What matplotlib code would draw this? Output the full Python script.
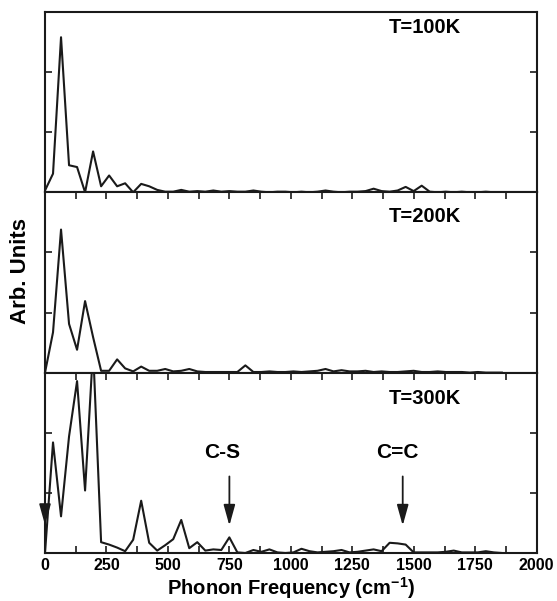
import numpy as np
import matplotlib
matplotlib.use("Agg")
import matplotlib.pyplot as plt
from matplotlib.ticker import MultipleLocator

plt.rcParams["font.family"] = ["Liberation Sans", "DejaVu Sans"]
plt.rcParams["font.weight"] = "bold"
plt.rcParams["mathtext.fontset"] = "custom"
plt.rcParams["mathtext.rm"] = "Liberation Sans:bold"
plt.rcParams["mathtext.bf"] = "Liberation Sans:bold"

# frequency grid, ~32.6 cm^-1 step
step = 32.6
t100 = [0.03, 0.31, 2.58, 0.45, 0.42, 0.0, 0.68, 0.10, 0.28, 0.10,
        0.15, 0.0, 0.14, 0.10, 0.04, 0.01, 0.01, 0.04, 0.01, 0.02,
        0.01, 0.03, 0.01, 0.02, 0.01, 0.01, 0.03, 0.01, 0.0, 0.01,
        0.01, 0.0, 0.01, 0.0, 0.01, 0.03, 0.01, 0.0, 0.01, 0.01,
        0.02, 0.06, 0.02, 0.01, 0.03, 0.09, 0.02, 0.11, 0.01, 0.0,
        0.01, 0.0, 0.01, 0.0, 0.0, 0.01, 0.0, 0.0]
t200 = [0.0, 0.67, 2.38, 0.81, 0.38, 1.19, 0.59, 0.03, 0.03, 0.22,
        0.07, 0.02, 0.10, 0.03, 0.03, 0.06, 0.02, 0.03, 0.06, 0.02,
        0.01, 0.01, 0.01, 0.01, 0.01, 0.12, 0.01, 0.01, 0.02, 0.01,
        0.01, 0.02, 0.01, 0.02, 0.03, 0.06, 0.02, 0.04, 0.02, 0.02,
        0.03, 0.01, 0.02, 0.01, 0.01, 0.02, 0.03, 0.01, 0.01, 0.02,
        0.01, 0.01, 0.01, 0.0, 0.01, 0.0, 0.0, 0.0]
t300 = [0.0, 1.84, 0.61, 1.94, 2.86, 1.04, 3.4, 0.18, 0.14, 0.09,
        0.03, 0.22, 0.87, 0.17, 0.04, 0.13, 0.23, 0.55, 0.08, 0.18,
        0.04, 0.06, 0.05, 0.26, 0.01, 0.0, 0.05, 0.02, 0.06, 0.01,
        0.0, 0.01, 0.07, 0.03, 0.01, 0.02, 0.03, 0.05, 0.01, 0.02,
        0.04, 0.06, 0.03, 0.17, 0.16, 0.14, 0.01, 0.01, 0.01, 0.01,
        0.02, 0.04, 0.01, 0.01, 0.01, 0.03, 0.01, 0.0]
labels = ["T=100K", "T=200K", "T=300K"]
peaks = [("C-S", 750, 721), ("C=C", 1455, 1435)]

freq = np.arange(len(t100)) * step

fig = plt.figure(figsize=(5.57, 6.01), dpi=100)
left, width = 45 / 557, (536.7 - 45) / 557
h = 180.3 / 601
bottoms = [1 - 192.3 / 601, 1 - 372.6 / 601, 1 - 553 / 601]
col = "#1a1a1a"
label_y = [2.75, 2.6, 2.57]

axes = []
for i, (ys, lab) in enumerate(zip([t100, t200, t300], labels)):
    ax = fig.add_axes([left, bottoms[i], width, h])
    ax.plot(freq, ys, color=col, lw=1.5)
    ax.set_xlim(0, 2000)
    ax.set_ylim(0, 3)
    ax.xaxis.set_major_locator(MultipleLocator(250))
    ax.xaxis.set_minor_locator(MultipleLocator(125))
    ax.set_yticks([1, 2])
    ax.set_yticklabels([])
    for s in ax.spines.values():
        s.set_linewidth(1.5)
        s.set_color(col)
    ax.tick_params(axis="y", which="both", direction="in", left=True, right=True,
                   length=5, width=1.2, color=col)
    ax.tick_params(axis="x", which="both", direction="in", top=True,
                   bottom=(i == 2), length=5, width=1.2, color=col,
                   labelbottom=(i == 2), labelsize=11.5, pad=3.5)
    if i == 0:
        ax.tick_params(axis="x", which="both", top=False)
    ax.text(1546, label_y[i], lab, ha="center", va="center",
            fontsize=14.5, fontweight="bold")
    axes.append(ax)

ax3 = axes[2]
for name, xa, xt in peaks:
    ax3.text(xt, 1.68, name, ha="center", va="center", fontsize=15, fontweight="bold")
    ax3.annotate("", xy=(xa, 0.41), xytext=(xa, 1.32),
                 arrowprops=dict(arrowstyle="-|>,head_length=0.9,head_width=0.25",
                                 lw=1.3, color=col, mutation_scale=14))
ax3.annotate("", xy=(0, 0.42), xytext=(0, 0.62), annotation_clip=False,
             arrowprops=dict(arrowstyle="-|>,head_length=0.9,head_width=0.25",
                             lw=1.3, color=col, mutation_scale=14))
for t in ax3.get_xticklabels():
    t.set_fontweight("bold")

fig.text((45 + 536.7) / 2 / 557, 1 - 595 / 601,
         "Phonon Frequency (cm$^{\\mathbf{-1}}$)", ha="center", va="baseline",
         fontsize=14.5, fontweight="bold")
fig.text(21 / 557, 1 - 271 / 601, "Arb. Units", rotation=90, ha="center",
         va="center", fontsize=16, fontweight="bold")

fig.savefig("out.png", dpi=100)
